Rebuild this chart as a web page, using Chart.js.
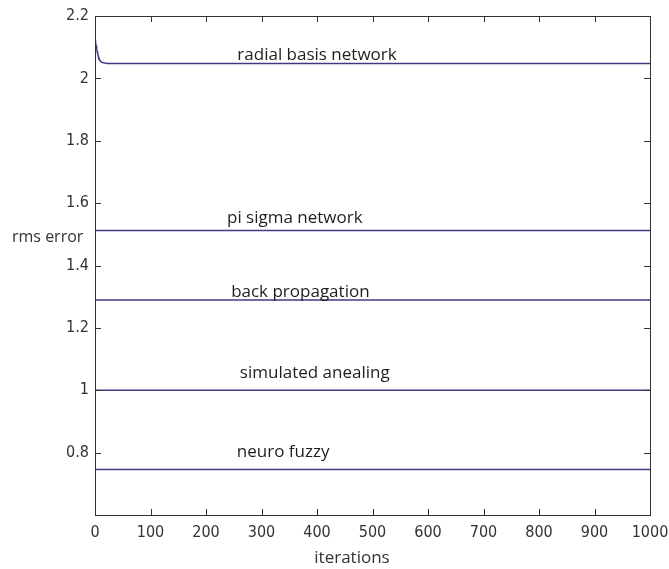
<!DOCTYPE html>
<html>
<head>
<meta charset="utf-8">
<script src="https://cdn.jsdelivr.net/npm/chart.js@4/dist/chart.umd.min.js"></script>
<style>
  html, body { margin: 0; padding: 0; background: #fff; }
  #wrap { width: 669px; height: 569px; }
</style>
</head>
<body>
<div id="wrap"><canvas id="c" width="669" height="569"></canvas></div>
<script>
// ---- data ----
const radialIter   = [0, 1, 2, 3, 4, 5, 6, 8, 10, 12, 15, 18, 22, 30, 1000];
const radialBasis  = [2.123, 2.115, 2.105, 2.094, 2.085, 2.077, 2.070, 2.061, 2.055, 2.052, 2.050, 2.049, 2.048, 2.048, 2.048];
const flatIter     = [0, 1000];
const piSigma      = [1.512, 1.512];
const backProp     = [1.289, 1.289];
const simAnnealing = [1.000, 1.000];
const neuroFuzzy   = [0.746, 0.746];
const seriesNames  = ['radial basis network', 'pi sigma network', 'back propagation', 'simulated anealing', 'neuro fuzzy'];
const xTickValues  = [0, 100, 200, 300, 400, 500, 600, 700, 800, 900, 1000];
const xTickLabels  = ['0', '100', '200', '300', '400', '500', '600', '700', '800', '900', '1000'];
const yTickValues  = [0.8, 1, 1.2, 1.4, 1.6, 1.8, 2, 2.2];
const yTickLabels  = ['0.8', '1', '1.2', '1.4', '1.6', '1.8', '2', '2.2'];
const xTitle = 'iterations';
const yTitle = 'rms error';

// label anchors (data units) for the in-plot series names
const labelAnchorX = [400, 360, 370, 396, 339];
const labelAnchorY = [2.073, 1.552, 1.315, 1.055, 0.802];

const lineColor = '#3c3c82';
const pts = (xs, ys) => xs.map((x, i) => ({ x: x, y: ys[i] }));
const allSeries = [
  pts(radialIter, radialBasis),
  pts(flatIter, piSigma),
  pts(flatIter, backProp),
  pts(flatIter, simAnnealing),
  pts(flatIter, neuroFuzzy)
];

const tickFont = { family: "'DejaVu Sans Condensed', 'Liberation Sans Narrow', sans-serif", size: 16 };

const decor = {
  id: 'decor',
  afterDraw(chart) {
    const ctx = chart.ctx;
    const { left, right, top, bottom } = chart.chartArea;
    const xs = chart.scales.x, ys = chart.scales.y;
    ctx.save();
    ctx.strokeStyle = '#333';
    ctx.lineWidth = 1;
    ctx.strokeRect(Math.round(left) + 0.5, Math.round(top) + 0.5, Math.round(right - left), Math.round(bottom - top));
    ctx.beginPath();
    xTickValues.forEach(v => {
      const p = Math.round(xs.getPixelForValue(v)) + 0.5;
      if (p <= left + 1 || p >= right - 1) return;
      ctx.moveTo(p, bottom); ctx.lineTo(p, bottom - 6);
      ctx.moveTo(p, top); ctx.lineTo(p, top + 6);
    });
    yTickValues.forEach(v => {
      const p = Math.round(ys.getPixelForValue(v)) + 0.5;
      if (p <= top + 1 || p >= bottom - 1) return;
      ctx.moveTo(left, p); ctx.lineTo(left + 6, p);
      ctx.moveTo(right, p); ctx.lineTo(right - 6, p);
    });
    ctx.stroke();

    // series name labels
    ctx.fillStyle = '#1e1e1e';
    ctx.font = "17px 'Open Sans', sans-serif";
    ctx.textAlign = 'center';
    ctx.textBaseline = 'middle';
    seriesNames.forEach((t, i) => {
      ctx.fillText(t, xs.getPixelForValue(labelAnchorX[i]), ys.getPixelForValue(labelAnchorY[i]));
    });

    // axis titles
    ctx.fillStyle = '#333';
    ctx.font = "16px 'Open Sans', sans-serif";
    ctx.textAlign = 'left';
    ctx.fillText(yTitle, 12, ys.getPixelForValue(1.49));
    ctx.font = "17px 'Open Sans', sans-serif";
    ctx.textAlign = 'center';
    ctx.fillText(xTitle, 352, 558);
    ctx.restore();
  }
};

new Chart(document.getElementById('c'), {
  type: 'line',
  data: {
    datasets: allSeries.map((d, i) => ({
      label: seriesNames[i],
      data: d,
      borderColor: lineColor,
      borderWidth: 1.5,
      pointRadius: 0,
      tension: 0,
      fill: false
    }))
  },
  options: {
    responsive: false,
    animation: false,
    events: [],
    layout: { padding: { top: 16, right: 19, left: 0, bottom: 0 } },
    plugins: { legend: { display: false }, tooltip: { enabled: false } },
    scales: {
      x: {
        type: 'linear',
        min: 0, max: 1000,
        afterBuildTicks: s => { s.ticks = xTickValues.map(v => ({ value: v })); },
        afterFit: s => { s.height = 54; s.paddingRight = 0; s.paddingLeft = 0; },
        grid: { display: false, drawTicks: false },
        border: { display: false },
        ticks: {
          font: tickFont, color: '#333', padding: 8, maxRotation: 0, autoSkip: false,
          callback: v => { const i = xTickValues.indexOf(v); return i >= 0 ? xTickLabels[i] : ''; }
        }
      },
      y: {
        type: 'linear',
        min: 0.6, max: 2.2,
        afterBuildTicks: s => { s.ticks = yTickValues.map(v => ({ value: v })); },
        afterFit: s => { s.width = 95; },
        grid: { display: false, drawTicks: false },
        border: { display: false },
        ticks: {
          font: tickFont, color: '#333', padding: 6, autoSkip: false,
          callback: v => { const i = yTickValues.findIndex(t => Math.abs(t - v) < 1e-9); return i >= 0 ? yTickLabels[i] : ''; }
        }
      }
    }
  },
  plugins: [decor]
});
</script>
</body>
</html>
